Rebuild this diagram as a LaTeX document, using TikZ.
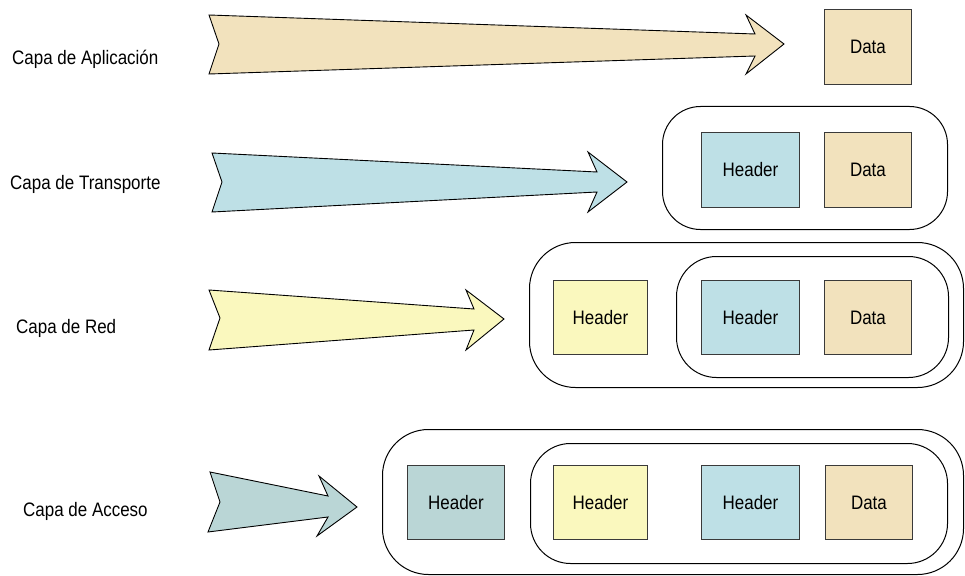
\documentclass[tikz,border=0pt]{standalone}
\usepackage{fontspec}
\setmainfont{Liberation Sans}[FakeStretch=0.87]
\begin{document}
\definecolor{beige}{HTML}{F2E2BD}
\definecolor{skyblue}{HTML}{BEE0E6}
\definecolor{paleyellow}{HTML}{FAF8BE}
\definecolor{teal2}{HTML}{BAD6D6}
\definecolor{boxline}{HTML}{3A3A3A}
\tikzset{
  lbl/.style={anchor=base west, inner sep=0pt, font=\fontsize{19.5}{22}\selectfont},
  blk/.style={draw=boxline, line width=0.9pt, anchor=north west, inner sep=0pt,
              font=\fontsize{19.5}{22}\selectfont},
  hdr/.style={blk, minimum width=98pt, minimum height=75pt},
  dat/.style={blk, fill=beige, minimum width=87pt, minimum height=75pt},
  bigarrow/.style={draw=black, line width=0.9pt, line join=miter},
  wrap/.style={draw=black, line width=1pt, anchor=north west, inner sep=0pt},
}
\begin{tikzpicture}[x=1pt, y=-1pt]
\useasboundingbox (0,0) rectangle (965,575);

% layer labels
\node[lbl] (l1) at (12,65)  {Capa de Aplicación};
\node[lbl] (l2) at (10,189) {Capa de Transporte};
\node[lbl] (l3) at (16,333) {Capa de Red};
\node[lbl] (l4) at (23,516) {Capa de Acceso};

% layer arrows
\draw[bigarrow, fill=beige] (209,15) -- (755,34) -- (746,15) -- (784,44) -- (746,74)
  -- (755,56) -- (209,74) -- (219,44) -- cycle;
\draw[bigarrow, fill=skyblue] (212,153) -- (597,172) -- (588,152) -- (627,182) -- (588,212)
  -- (597,192) -- (212,212) -- (222,182) -- cycle;
\draw[bigarrow, fill=paleyellow] (209,290) -- (474,309) -- (466,290) -- (504,319) -- (466,350)
  -- (474,330) -- (209,350) -- (220,318) -- cycle;
\draw[bigarrow, fill=teal2] (210,472) -- (328,496) -- (319,476) -- (357,507) -- (317,536)
  -- (328,517) -- (208,532) -- (220,502) -- cycle;

% application layer
\node[dat, minimum width=87pt] (d1) at (824,9) {Data};

% transport layer
\node[wrap, rounded corners=38pt, minimum width=285pt, minimum height=123pt] (s2) at (662,106) {};
\node[hdr, fill=skyblue] (t2) at (701,132) {Header};
\node[dat] (d2) at (824,132) {Data};

% network layer
\node[wrap, rounded corners=46pt, minimum width=434pt, minimum height=145pt] (p3) at (529,242) {};
\node[wrap, rounded corners=40pt, minimum width=272pt, minimum height=121pt] (s3) at (676,256) {};
\node[hdr, fill=paleyellow, minimum width=94pt, minimum height=74pt] (n3) at (553,280) {Header};
\node[hdr, fill=skyblue, minimum height=74pt] (t3) at (701,280) {Header};
\node[dat, minimum height=74pt] (d3) at (824,280) {Data};

% access layer
\node[wrap, rounded corners=46pt, minimum width=581pt, minimum height=145pt] (f4) at (382,429) {};
\node[wrap, rounded corners=40pt, minimum width=417pt, minimum height=120pt] (s4) at (530,443) {};
\node[hdr, fill=teal2, minimum width=97pt, minimum height=74pt] (a4) at (407,465) {Header};
\node[hdr, fill=paleyellow, minimum width=94pt, minimum height=74pt] (n4) at (553,465) {Header};
\node[hdr, fill=skyblue, minimum height=74pt] (t4) at (701,465) {Header};
\node[dat, minimum height=74pt] (d4) at (825,465) {Data};
\end{tikzpicture}
\end{document}
